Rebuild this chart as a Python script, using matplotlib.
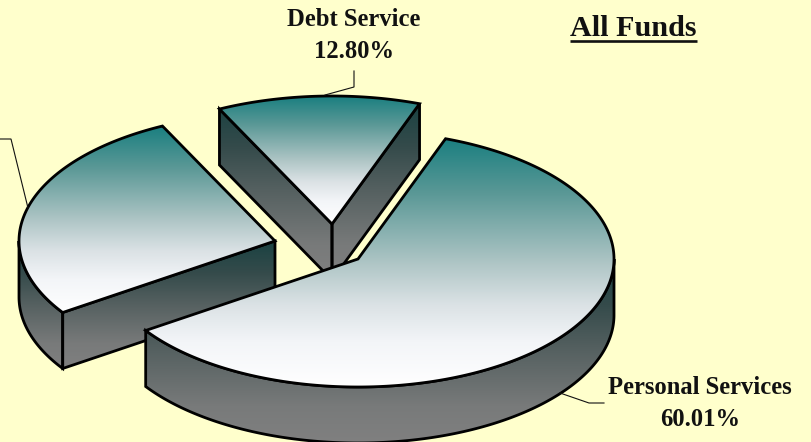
import numpy as np
import matplotlib
matplotlib.use("Agg")
import matplotlib.pyplot as plt
from matplotlib.colors import LinearSegmentedColormap
from matplotlib.patches import Polygon

# Budget shares, counter-clockwise from the first slice edge
shares = [12.80, 27.19, 60.01]
slice_labels = ["Debt Service", "", "Personal Services"]
chart_title = "All Funds"

# Pie geometry, in pixels
RX, RY, DEPTH = 256, 128, 56
START_ANGLE = 70
apexes = [(332, 224), (275, 241), (358, 259)]

BACKGROUND = "#FFFFCC"
top_cmap = LinearSegmentedColormap.from_list(
    "top", [(0, "#1A7F80"), (0.22, "#5A9896"), (0.5, "#AEC5C5"), (0.67, "#DBE2E5"), (0.82, "#F3F5F8"), (1, "#FFFFFF")])
side_cmap = LinearSegmentedColormap.from_list(
    "side", [(0, "#1A4242"), (0.25, "#354B4B"), (0.5, "#566161"), (0.8, "#787A7A"), (1, "#808080")])

fig = plt.figure(figsize=(8.12, 4.42), dpi=100, facecolor=BACKGROUND)
ax = fig.add_axes([0, 0, 1, 1])
ax.set_axis_off()


def arc(center, t0, t1, dy=0.0):
    t = np.radians(np.linspace(t0, t1, max(int(abs(t1 - t0) * 3), 2)))
    return np.column_stack([center[0] + RX * np.cos(t), center[1] - RY * np.sin(t) + dy])


def shaded(points, cmap, y0, y1, z):
    """Fill a polygon with a vertical gradient running from y0 to y1, with a black outline."""
    outline = Polygon(points, closed=True, facecolor="none", edgecolor="black",
                      linewidth=2.0, joinstyle="miter", zorder=z + 0.5)
    ax.add_patch(outline)
    xmin, xmax = points[:, 0].min(), points[:, 0].max()
    ramp = np.linspace(0, 1, 256).reshape(-1, 1)
    image = ax.imshow(ramp, cmap=cmap, vmin=0, vmax=1, aspect="auto",
                      extent=(xmin, xmax, y1, y0), zorder=z, interpolation="bilinear")
    image.set_clip_path(Polygon(points, closed=True, transform=ax.transData))


angle = START_ANGLE
for i, (share, apex) in enumerate(zip(shares, apexes)):
    t0, t1 = angle, angle + share * 3.6
    angle = t1
    z = 10 * (i + 1)
    rim = arc(apex, t0, t1)
    face = np.vstack([[apex], rim])

    # Outer wall: only the part on the front half of the ellipse shows
    walls = []
    lo, hi = max(t0, 180), min(t1, 360)
    if hi > lo:
        upper = arc(apex, lo, hi)
        walls.append(np.vstack([upper, arc(apex, hi, lo, DEPTH)]))
    # Cut walls that face the viewer
    for edge, normal in ((t0, t0 - 90), (t1, t1 + 90)):
        if np.sin(np.radians(normal)) < 0:
            outer = arc(apex, edge, edge)[0]
            walls.append(np.array([apex, outer, outer + [0, DEPTH],
                                   (apex[0], apex[1] + DEPTH)], dtype=float))

    side_top = min(w[:, 1].min() for w in walls)
    side_bottom = max(w[:, 1].max() for w in walls)
    for wall in walls:
        shaded(wall, side_cmap, side_top, side_bottom, z)
    shaded(face, top_cmap, face[:, 1].min(), face[:, 1].max(), z + 1)

# Leader lines
leader_style = dict(color="#111111", linewidth=0.8, zorder=60, solid_joinstyle="miter")
ax.plot([354, 354, 325], [71, 87, 95], **leader_style)
ax.plot([0, 11, 28], [139, 139, 208], **leader_style)
ax.plot([604, 589, 560], [403, 403, 393], **leader_style)

# Text
serif = dict(family="Liberation Serif", weight="bold", color="#111111", ha="center", va="center", zorder=70)
ax.text(354, 19, slice_labels[0], fontsize=17.7, **serif)
ax.text(354, 51, f"{shares[0]:.2f}%", fontsize=17.7, **serif)
ax.text(700, 388, slice_labels[2], fontsize=17.7, **serif)
ax.text(700, 420, f"{shares[2]:.2f}%", fontsize=17.7, **serif)
ax.text(633, 28, chart_title, fontsize=21.7, **serif)
ax.plot([570, 697], [40.5, 40.5], color="#111111", linewidth=1.9, zorder=70, solid_capstyle="butt")

ax.set_xlim(0, 812)
ax.set_ylim(442, 0)
fig.savefig("out.png", dpi=100, facecolor=BACKGROUND)
